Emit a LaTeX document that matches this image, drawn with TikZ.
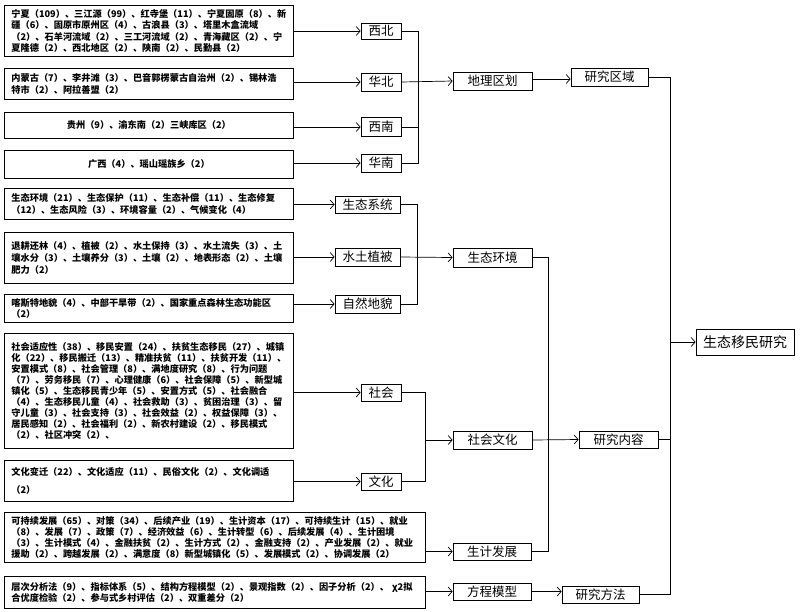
\documentclass[tikz,border=0pt]{standalone}
\usepackage{fontspec}
\setmainfont{Noto Sans CJK SC}
\usetikzlibrary{arrows.meta}
\tikzset{
  srcbox/.style={draw, line width=0.8pt, anchor=north west, inner ysep=0pt, inner xsep=7pt, align=left,
    font=\fontsize{9.2}{11.6}\selectfont\bfseries},
  catbox/.style={draw, line width=0.8pt, inner sep=0pt, font=\fontsize{12.5}{14}\selectfont},
  link/.style={line width=0.7pt},
  arr/.style={line width=0.7pt, -{Straight Barb[length=4pt,width=9pt,line width=0.7pt]}},
}
\begin{document}
\begin{tikzpicture}[x=1pt,y=-1pt]
\useasboundingbox[fill=white] (0,0) rectangle (800,611);
% ---- source boxes ----
\node[srcbox, minimum width=289pt, minimum height=51pt, text width=275pt] (b1) at (4,5)
 {宁夏（109）、三江源（99）、红寺堡（11）、宁夏固原（8）、新\\疆（6）、固原市原州区（4）、古浪县（3）、塔里木盒流域\\（2）、石羊河流域（2）、三工河流域（2）、青海藏区（2）、宁\\夏隆德（2）、西北地区（2）、陕南（2）、民勤县（2）};
\node[srcbox, minimum width=289pt, minimum height=31pt, text width=275pt] (b2) at (4,68)
 {内蒙古（7）、李井滩（3）、巴音郭楞蒙古自治州（2）、锡林浩\\特市（2）、阿拉善盟（2）};
\node[srcbox, minimum width=289pt, minimum height=26pt, text width=275pt, align=center] (b3) at (4,112)
 {贵州（9）、渝东南（2）三峡库区（2）};
\node[srcbox, minimum width=289pt, minimum height=28pt, text width=275pt, align=center] (b4) at (4,150)
 {广西（4）、瑶山瑶族乡（2）};
\node[srcbox, minimum width=289pt, minimum height=31pt, text width=275pt] (b5) at (4,188)
 {生态环境（21）、生态保护（11）、生态补偿（11）、生态修复\\（12）、生态风险（3）、环境容量（2）、气候变化（4）};
\node[srcbox, minimum width=289pt, minimum height=51pt, text width=275pt] (b6) at (4,232)
 {退耕还林（4）、植被（2）、水土保持（3）、水土流失（3）、土\\壤水分（3）、土壤养分（3）、土壤（2）、地表形态（2）、土壤\\肥力（2）\\[3pt]};
\node[srcbox, minimum width=289pt, minimum height=28pt, text width=275pt] (b7) at (4,294)
 {喀斯特地貌（4）、中部干旱带（2）、国家重点森林生态功能区\\（2）};
\node[srcbox, minimum width=289pt, minimum height=115pt, text width=275pt, font=\fontsize{9.2}{11}\selectfont\bfseries] (b8) at (4,333)
 {社会适应性（38）、移民安置（24）、扶贫生态移民（27）、城镇\\化（22）、移民搬迁（13）、精准扶贫（11）、扶贫开发（11）、\\安置模式（8）、社会管理（8）、满地度研究（8）、行为问题\\（7）、劳务移民（7）、心理健康（6）、社会保障（5）、新型城\\镇化（5）、生态移民青少年（5）、安置方式（5）、社会融合\\（4）、生态移民儿童（4）、社会救助（3）、贫困治理（3）、留\\守儿童（3）、社会支持（3）、社会效益（2）、权益保障（3）、\\居民感知（2）、社会福利（2）、新农村建设（2）、移民模式\\（2）、社区冲突（2）、};
\node[srcbox, minimum width=289pt, minimum height=41pt, text width=275pt] (b9) at (4,460)
 {文化变迁（22）、文化适应（11）、民俗文化（2）、文化调适\\[6pt]（2）};
\node[srcbox, minimum width=421pt, minimum height=50pt, text width=407pt, font=\fontsize{9.2}{11.2}\selectfont\bfseries] (b10) at (4,512)
 {可持续发展（65）、对策（34）、后续产业（19）、生计资本（17）、可持续生计（15）、就业\\（8）、发展（7）、政策（7）、经济效益（6）、生计转型（6）、后续发展（4）、生计困境\\（3）、生计模式（4）、金融扶贫（2）、生计方式（2）、金融支持（2）、产业发展（2）、就业\\援助（2）、跨越发展（2）、满意度（8）新型城镇化（5）、发展模式（2）、协调发展（2）};
\node[srcbox, minimum width=421pt, minimum height=32pt, text width=407pt] (b11) at (4,576)
 {层次分析法（9）、指标体系（5）、结构方程模型（2）、景观指数（2）、因子分析（2）、 χ2拟\\合优度检验（2）、参与式乡村评估（2）、双重差分（2）};
% ---- category boxes ----
\node[catbox, minimum width=40pt, minimum height=16pt] (xb) at (381,31) {西北};
\node[catbox, minimum width=40pt, minimum height=18pt] (hb) at (381,82) {华北};
\node[catbox, minimum width=40pt, minimum height=19pt] (xn) at (381,127) {西南};
\node[catbox, minimum width=40pt, minimum height=18pt] (hn) at (381,163) {华南};
\node[catbox, minimum width=65pt, minimum height=17pt] (sx) at (367.5,204.5) {生态系统};
\node[catbox, minimum width=65pt, minimum height=18pt] (st) at (367.5,257) {水土植被};
\node[catbox, minimum width=65pt, minimum height=18pt] (zd) at (367.5,304) {自然地貌};
\node[catbox, minimum width=40pt, minimum height=17pt] (sh) at (381,392.5) {社会};
\node[catbox, minimum width=40pt, minimum height=17pt] (wh) at (381,481.5) {文化};
\node[catbox, minimum width=79pt, minimum height=18pt] (dl) at (492.5,81) {地理区划};
\node[catbox, minimum width=77pt, minimum height=18pt] (yq) at (609.5,77) {研究区域};
\node[catbox, minimum width=79pt, minimum height=19pt] (sthj) at (492.5,257.5) {生态环境};
\node[catbox, minimum width=79pt, minimum height=18pt] (shwh) at (492.5,440) {社会文化};
\node[catbox, minimum width=78pt, minimum height=17pt] (sj) at (492,551.5) {生计发展};
\node[catbox, minimum width=78pt, minimum height=17pt] (fc) at (492,591.5) {方程模型};
\node[catbox, minimum width=79pt, minimum height=17pt] (yn) at (618.5,439.5) {研究内容};
\node[catbox, minimum width=77pt, minimum height=17pt] (yf) at (600.5,594.5) {研究方法};
\node[catbox, minimum width=98pt, minimum height=26pt, font=\fontsize{14}{16}\selectfont] (root) at (745,342) {生态移民研究};
% ---- junctions ----
\coordinate (j1) at (418,82);
\coordinate (j2) at (417,257);
\coordinate (j3) at (425,440);
\coordinate (j4) at (548,440);
\coordinate (j5) at (670,342);
\coordinate (dlout) at (532,79);
% ---- connectors ----
\draw[arr] (b1.east |- xb.west) -- (xb.west);
\draw[arr] (b2.east |- hb.west) -- (hb.west);
\draw[arr] (b3.east |- xn.west) -- (xn.west);
\draw[arr] (b4.east |- hn.west) -- (hn.west);
\draw[link] (xb.east) -| (j1);
\draw[link] (xn.east) -| (j1);
\draw[link] (hn.east) -| (j1);
\draw[arr] (hb.east) -- (dl.west);
\draw[arr] (dlout) -- (yq.west |- dlout);
\draw[arr] (b5.east |- sx.west) -- (sx.west);
\draw[arr] (b6.east |- st.west) -- (st.west);
\draw[arr] (b7.east |- zd.west) -- (zd.west);
\draw[link] (sx.east) -| (j2);
\draw[link] (zd.east) -| (j2);
\draw[arr] (st.east) -- (sthj.west);
\draw[arr] (b8.east |- sh.west) -- (sh.west);
\draw[arr] (b9.east |- wh.west) -- (wh.west);
\draw[link] (sh.east) -| (j3);
\draw[link] (wh.east) -| (j3);
\draw[arr] (j3) -- (shwh.west);
\draw[arr] (b10.east |- sj.west) -- (sj.west);
\draw[arr] (b11.east |- fc.west) -- (fc.west);
\draw[link] (sthj.east) -| (j4);
\draw[link] (sj.east) -| (j4);
\draw[arr] (shwh.east) -- (yn.west);
\draw[arr] (fc.east) -- (yf.west |- fc.east);
\draw[link] (yq.east) -| (j5);
\draw[link] (yn.east) -| (j5);
\draw[link] (yf.east) -| (j5);
\draw[arr] (j5) -- (root.west);
\end{tikzpicture}
\end{document}
